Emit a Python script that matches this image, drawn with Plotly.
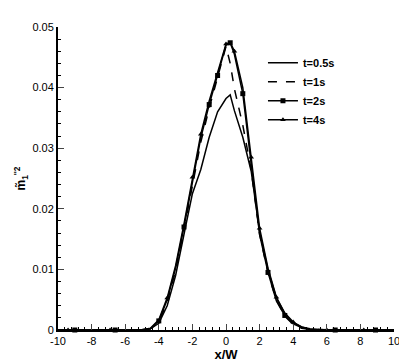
"""
Perfil transversal de m1''^2 para varios instantes.
"""

import plotly.graph_objects as go

# malla comun en x/W
x_w = [-10, -9.4, -9.0, -8, -6.9, -6.6, -6, -5, -4.5, -4, -3.5, -3, -2.5, -2, -1.5, -1, -0.5,
       0, 0.25, 0.5, 1, 1.5, 2, 2.5, 3, 3.5, 4, 4.5, 5, 6, 6.5, 7, 8.2, 8.9, 10]

m_t05 = [0, 0, 0, 0, 0, 0, 0, 0.00005, 0.0002, 0.0011, 0.0040, 0.0090, 0.0158, 0.0225, 0.0265, 0.0318, 0.0360,
         0.0382, 0.0388, 0.0362, 0.0318, 0.0262, 0.0162, 0.0099, 0.0053, 0.0027, 0.0012, 0.0005, 0.0001,
         0, 0, 0, 0, 0, 0]
m_t1 = [0, 0, 0, 0, 0, 0, 0, 0.00005, 0.0002, 0.0013, 0.0046, 0.0098, 0.0166, 0.0240, 0.0310, 0.0366, 0.0415,
        0.0468, 0.0440, 0.0398, 0.0338, 0.0264, 0.0158, 0.0094, 0.0049, 0.0023, 0.0009, 0.0003, 0.0001,
        0, 0, 0, 0, 0, 0]
m_t2 = [0, 0, 0, 0, 0, 0, 0, 0.00005, 0.0002, 0.0015, 0.0050, 0.0102, 0.0170, 0.0246, 0.0317, 0.0372, 0.0420,
        0.0470, 0.0474, 0.0455, 0.0390, 0.0272, 0.0158, 0.0095, 0.0048, 0.0024, 0.0010, 0.0004, 0.0001,
        0, 0, 0, 0, 0, 0]
m_t4 = [0, 0, 0, 0, 0, 0, 0, 0.00005, 0.0003, 0.0017, 0.0053, 0.0106, 0.0175, 0.0252, 0.0323, 0.0378, 0.0425,
        0.0472, 0.0475, 0.0460, 0.0400, 0.0285, 0.0168, 0.0102, 0.0054, 0.0028, 0.0013, 0.0005, 0.0002,
        0, 0, 0, 0, 0, 0]

# puntos con simbolo (1 = simbolo dibujado)
mark_t2 = [0, 0, 1, 0, 0, 1, 0, 0, 0, 1, 0, 0, 1, 0, 0, 1, 1,
           0, 1, 0, 1, 0, 0, 1, 0, 1, 0, 0, 0, 0, 1, 0, 0, 1, 0]
mark_t4 = [0, 1, 0, 0, 1, 0, 0, 0, 0, 0, 1, 0, 0, 1, 1, 0, 0,
           1, 0, 1, 0, 1, 1, 0, 1, 0, 1, 0, 0, 1, 0, 0, 1, 0, 0]

x_ticks = [-10, -8, -6, -4, -2, 0, 2, 4, 6, 8, 10]

font_family = "Liberation Sans, Arial, sans-serif"
LINE = dict(color="black", width=1.5)


def add_series(fig, name, y, dash="solid", symbol=None, mask=None):
    """Linea completa, simbolos en algunos puntos y una entrada de leyenda."""
    fig.add_trace(go.Scatter(x=x_w, y=y, mode="lines", showlegend=False,
                             line=dict(LINE, dash=dash), hoverinfo="skip"))
    marker = None
    if symbol:
        marker = dict(symbol=symbol, color="black", size=5)
        xs = [xv for xv, m in zip(x_w, mask) if m]
        ys = [yv for yv, m in zip(y, mask) if m]
        fig.add_trace(go.Scatter(x=xs, y=ys, mode="markers", showlegend=False,
                                 marker=marker, cliponaxis=False))
    fig.add_trace(go.Scatter(x=[None], y=[None], name=name,
                             mode="lines+markers" if symbol else "lines",
                             line=dict(LINE, dash=dash), marker=marker))


fig = go.Figure()
add_series(fig, "t=0.5s", m_t05)
add_series(fig, "t=1s", m_t1, dash="dash")
add_series(fig, "t=2s", m_t2, symbol="square", mask=mark_t2)
add_series(fig, "t=4s", m_t4, symbol="triangle-up", mask=mark_t4)

fig.update_layout(
    width=407,
    height=362,
    plot_bgcolor="white",
    paper_bgcolor="white",
    margin=dict(l=42, r=21, t=19, b=34),
    font=dict(family=font_family, color="black", size=11),
    showlegend=True,
    legend=dict(
        x=0.61,
        y=0.93,
        xanchor="left",
        yanchor="top",
        bgcolor="rgba(0,0,0,0)",
        font=dict(size=11, family=font_family, weight="bold"),
        tracegroupgap=0,
        itemwidth=30,
    ),
)

fig.update_xaxes(
    range=[-10, 10],
    tickmode="array",
    tickvals=x_ticks,
    ticktext=[str(t) for t in x_ticks],
    ticks="inside",
    ticklen=6,
    tickwidth=1,
    showline=True,
    linecolor="black",
    linewidth=2,
    showgrid=False,
    zeroline=False,
    tickfont=dict(size=11),
    minor=dict(dtick=0.4, tick0=-10, ticks="inside", ticklen=3, tickcolor="black", showgrid=False),
    title=dict(text="x/W", font=dict(size=13, weight="bold"), standoff=2),
)
fig.update_yaxes(
    range=[0, 0.05],
    dtick=0.01,
    ticks="inside",
    ticklen=6,
    tickwidth=1,
    showline=True,
    linecolor="black",
    linewidth=2,
    showgrid=False,
    zeroline=False,
    tickfont=dict(size=11),
    tickformat="~g",
    minor=dict(dtick=0.002, ticks="inside", ticklen=3, tickcolor="black", showgrid=False),
    title=dict(text="m\u0303<sub>1</sub><sup>''2</sup>", font=dict(size=12, weight="bold"), standoff=4),
)

fig.write_html("out.html")
